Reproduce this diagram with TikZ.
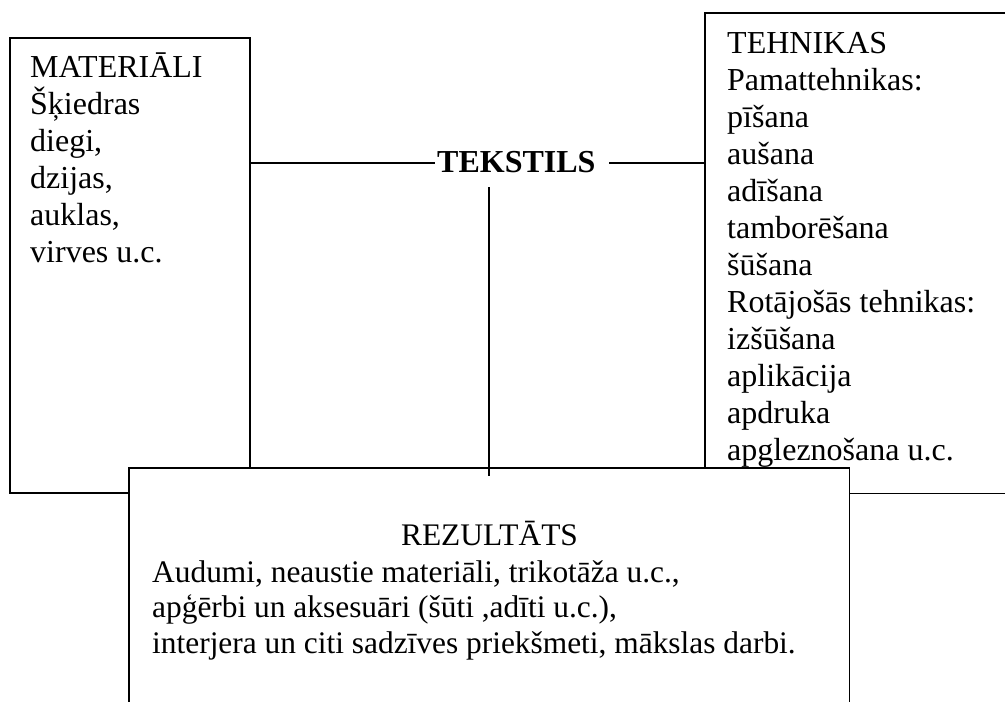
\documentclass[tikz,border=0pt]{standalone}
\usepackage{fontspec}
\setmainfont{Liberation Serif}
\newcommand\mylines[1]{\vtop{\halign{##\hfil\cr#1\crcr}}}
\tikzset{
  boxstyle/.style={draw, line width=1.5pt, rectangle, inner sep=0pt, anchor=north west},
  openbox/.style={rectangle, inner sep=0pt, anchor=north west},
  txtstyle/.style={inner sep=0pt, anchor=base west, font=\fontsize{32}{37}\selectfont},
  conn/.style={line width=1.5pt},
}
\begin{document}
\begin{tikzpicture}[x=1pt, y=-1pt]
\useasboundingbox (0,0) rectangle (1005,702);
\clip (0,0) rectangle (1005,702);
\fill[white] (0,0) rectangle (1005,702);
% boxes
\node[boxstyle, minimum width=240pt, minimum height=455pt] (mat) at (9,37) {};
\node[openbox, minimum width=340pt, minimum height=480pt] (teh) at (705,13) {};
\draw[conn] (teh.north east) -- (teh.north west) -- (teh.south west) -- (teh.south east);
% texts in boxes
\node[txtstyle] (mattxt) at (30,77) {\mylines{MATERIĀLI\cr Šķiedras\cr diegi,\cr dzijas,\cr auklas,\cr virves u.c.}};
\node[txtstyle] (tehtxt) at (727,53) {\mylines{TEHNIKAS\cr Pamattehnikas:\cr pīšana\cr aušana\cr adīšana\cr tamborēšana\cr šūšana\cr Rotājošās tehnikas:\cr izšūšana\cr aplikācija\cr apdruka\cr apgleznošana u.c.}};
% centre word
\node[txtstyle, font=\fontsize{32}{37}\selectfont\bfseries] (tek) at (437,172) {TEKSTILS};
\coordinate (hl) at (435,163);
\coordinate (hr) at (609,163);
\draw[conn] (mat.east |- hl) -- (hl);
\draw[conn] (hr) -- (teh.west |- hr);
% result box
\node[openbox, fill=white, minimum width=720pt, minimum height=260pt] (res) at (129,468) {};
\draw[conn] (res.south west) -- (res.north west) -- (res.north east) -- (res.south east);
\coordinate (vt) at (489,187);
\coordinate (vb) at (489,476);
\draw[conn] (vt) -- (vb);
\node[inner sep=0pt, anchor=base, font=\fontsize{31.4}{36}\selectfont] (restitle) at (489.5,545) {REZULTĀTS};
\node[txtstyle, font=\fontsize{31.4}{35.6}\selectfont] (restxt) at (152,582) {\mylines{Audumi, neaustie materiāli, trikotāža u.c.,\cr apģērbi un aksesuāri (šūti ,adīti u.c.),\cr interjera un citi sadzīves priekšmeti, mākslas darbi.}};
\end{tikzpicture}
\end{document}
